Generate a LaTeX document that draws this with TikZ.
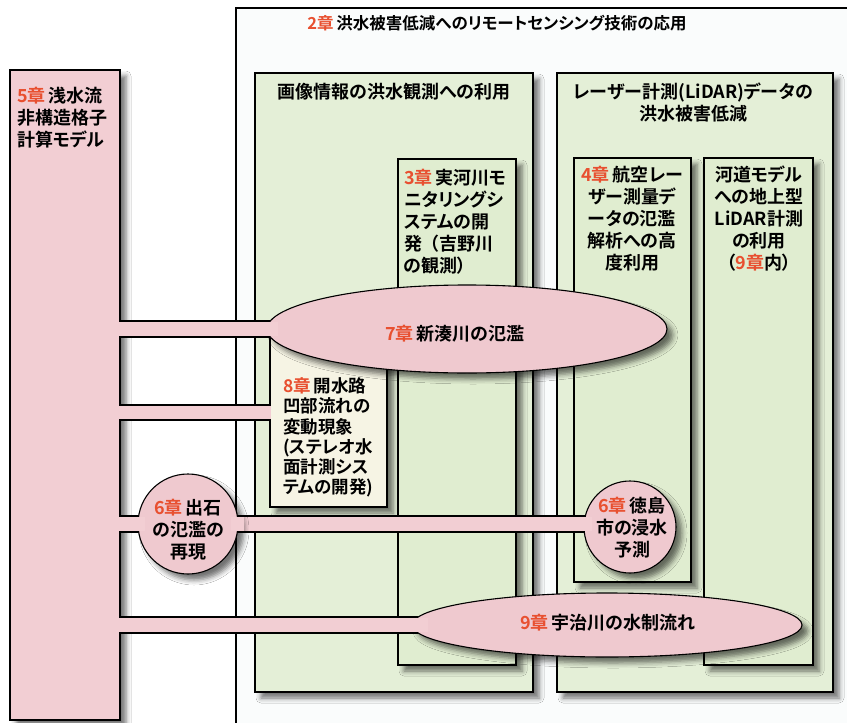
\documentclass[tikz,border=0pt]{standalone}
\usepackage{fontspec}
\setmainfont{Noto Sans CJK JP}[BoldFont={Noto Sans CJK JP Bold},RawFeature=+palt]
\usetikzlibrary{shapes.geometric,shadows.blur}
\definecolor{pinkfill}{RGB}{242,206,211}
\definecolor{pinkel}{RGB}{239,201,207}
\definecolor{greenfill}{RGB}{228,239,215}
\definecolor{innergreen}{RGB}{224,237,208}
\definecolor{creamfill}{RGB}{246,244,228}
\definecolor{outerfill}{RGB}{250,252,252}
\definecolor{chred}{RGB}{232,80,48}
\newcommand\chp[1]{\textcolor{chred}{#1章}}
\begin{document}
\begin{tikzpicture}[x=1pt,y=-1pt,
  box/.style={draw=black, line width=1.1pt, inner sep=0pt, outer sep=0pt, anchor=north west},
  shad/.style={blur shadow={shadow xshift=6pt, shadow yshift=-6pt, shadow blur radius=5pt, shadow opacity=55}},
  roundel/.style={draw=black, line width=1.1pt, inner sep=0pt, outer sep=0pt, fill=pinkel, shad},
  txt/.style={inner sep=0pt, outer sep=0pt, font=\fontsize{18}{22}\selectfont\bfseries},
  bandline/.style={line width=1.1pt},
  patch/.style={fill=pinkfill}]
\useasboundingbox (0,0) rectangle (847,723);
\clip (0,0) rectangle (847,723);
\fill[white] (0,0) rectangle (847,723);
% boxes
\node[box, fill=outerfill, minimum width=700pt, minimum height=800pt] (c2) at (236,8) {};
\node[box, fill=pinkfill, shad, minimum width=110pt, minimum height=650pt] (c5) at (10,70) {};
\node[box, fill=greenfill, shad, minimum width=278pt, minimum height=619pt] (g1) at (255,73) {};
\node[box, fill=greenfill, shad, minimum width=276pt, minimum height=619pt] (g2) at (557,73) {};
\node[box, fill=innergreen, shad, minimum width=118pt, minimum height=506pt] (c3) at (398,159) {};
\node[box, fill=innergreen, shad, minimum width=117pt, minimum height=424pt] (c4) at (574,158) {};
\node[box, fill=innergreen, shad, minimum width=109pt, minimum height=507pt] (kd) at (704,158) {};
\node[box, fill=creamfill, shad, minimum width=117pt, minimum height=177pt] (c8) at (270,330) {};
% centres of the round shapes
\coordinate (e7c) at (467,329);
\coordinate (e9c) at (607,625);
\coordinate (d1c) at (188,524);
\coordinate (d2c) at (630,527);
% bands
\fill[pinkfill] (c5.east |- 0,321) rectangle (e7c |- 0,337);
\draw[bandline] (c5.east |- 0,321) -- (e7c |- 0,321) (c5.east |- 0,337) -- (e7c |- 0,337);
\fill[pinkfill] (c5.east |- 0,405) rectangle (c8.west |- 0,420);
\draw[bandline] (c5.east |- 0,405) -- (c8.west |- 0,405) (c5.east |- 0,420) -- (c8.west |- 0,420);
\fill[pinkfill] (c5.east |- 0,516) rectangle (d2c |- 0,532);
\draw[bandline] (c5.east |- 0,516) -- (d2c |- 0,516) (c5.east |- 0,532) -- (d2c |- 0,532);
\fill[pinkfill] (c5.east |- 0,617) rectangle (e9c |- 0,633);
\draw[bandline] (c5.east |- 0,617) -- (e9c |- 0,617) (c5.east |- 0,633) -- (e9c |- 0,633);
% ellipses and circles
\node[roundel, ellipse, minimum width=400pt, minimum height=88pt] (e7) at (e7c) {};
\node[roundel, ellipse, minimum width=390pt, minimum height=64pt] (e9) at (e9c) {};
\node[roundel, circle, minimum size=100pt] (d1) at (d1c) {};
\node[roundel, circle, minimum size=92pt] (d2) at (d2c) {};
% open the borders where bands join
\foreach \ya/\yb in {321.6/336.4, 405.6/419.4, 516.6/531.4, 617.6/632.4}
  \fill[patch] (116.5,\ya) rectangle (123.5,\yb);
\fill[patch] (262,321.6) rectangle (278,336.4);
\fill[patch] (265,405.6) rectangle (270.8,419.4);
\fill[patch] (133,516.6) rectangle (145,531.4);
\fill[patch] (231,516.6) rectangle (244,531.4);
\fill[patch] (578,516.6) rectangle (592,531.4);
\fill[patch] (406,617.6) rectangle (428,632.4);
% texts
\node[txt, font=\fontsize{16.5}{20}\selectfont\bfseries] (t2) at (497,23) {\chp{2}\,洪水被害低減へのリモートセンシング技術の応用};
\node[txt] (tg1) at (394,92) {画像情報の洪水観測への利用};
\node[txt, align=center] (tg2) at (693,102) {レーザー計測(LiDAR)データの\\洪水被害低減};
\node[txt, align=left, anchor=west] (t5) at (17,118) {\chp{5}\,浅水流\\非構造格子\\計算モデル};
\node[txt, align=left, anchor=west] (t3) at (404,222) {\chp{3}\,実河川モ\\ニタリングシ\\ステムの開\\発\hspace{0.45em}（吉野川\\の観測）};
\node[txt, align=center] (t4) at (632,219) {\chp{4}\,航空レー\\ザー測量デ\\ータの氾濫\\解析への高\\度利用};
\node[txt, align=center] (tkd) at (759,219) {河道モデル\\への地上型\\LiDAR計測\\の利用\\（\chp{9}内）};
\node[txt, align=left, anchor=west, font=\fontsize{17.5}{20.2}\selectfont\bfseries] (t8) at (283,437.5) {\chp{8}\,開水路\\凹部流れの\\変動現象\\(ステレオ水\\面計測シス\\テムの開発)};
\node[txt] (t7) at (455,334) {\chp{7}\,新湊川の氾濫};
\node[txt] (t9) at (608,623) {\chp{9}\,宇治川の水制流れ};
\node[txt, align=center] (t6a) at (188,530) {\chp{6}\,出石\\の氾濫の\\再現};
\node[txt, align=center] (t6b) at (632,528) {\chp{6}\,徳島\\市の浸水\\予測};
\end{tikzpicture}
\end{document}
